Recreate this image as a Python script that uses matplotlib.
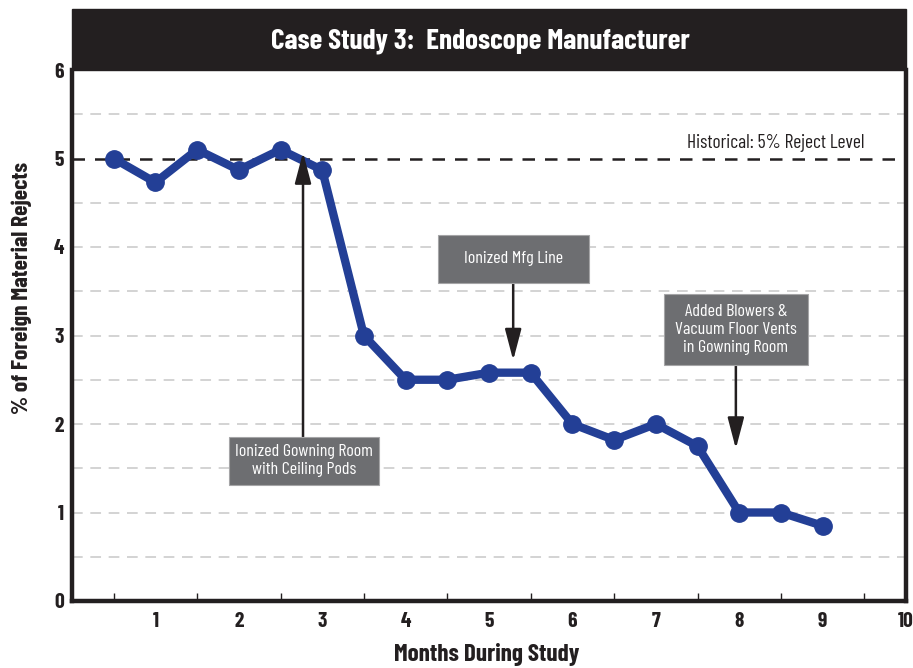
import matplotlib
matplotlib.use("Agg")
import matplotlib.pyplot as plt
from matplotlib.patches import Rectangle
from matplotlib import font_manager as fm

months = [0.5, 1, 1.5, 2, 2.5, 3, 3.5, 4, 4.5, 5, 5.5, 6, 6.5, 7, 7.5, 8, 8.5, 9]
rejects = [5.0, 4.73, 5.1, 4.87, 5.1, 4.87, 3.0, 2.5, 2.5, 2.58, 2.58, 2.0, 1.82, 2.0, 1.75, 1.0, 1.0, 0.85]
historical_level = 5.0
x_ticks = list(range(1, 11))
y_ticks = list(range(0, 7))

names = {f.name for f in fm.fontManager.ttflist}
FONT = "Barlow Condensed" if "Barlow Condensed" in names else "DejaVu Sans"
plt.rcParams['font.family'] = [FONT, 'DejaVu Sans']

DARK = "#231f20"
BLUE = "#233f96"
BOX = "#6d6e71"

fig = plt.figure(figsize=(9.13, 6.68), dpi=100)
ax = fig.add_axes([72/913, 67/668, 834/913, 531/668])

# title bar
fig.patches.append(Rectangle((72/913, (668-70)/668), 834/913, 61/668,
                             transform=fig.transFigure, facecolor=DARK, edgecolor=DARK, zorder=0))
fig.text(480/913, (668-41)/668, "Case Study 3:  Endoscope Manufacturer",
         color="white", fontsize=21, fontweight="bold", ha="center", va="center")

ax.set_xlim(0, 10)
ax.set_ylim(0, 6)

# gridlines
for yv in [0.5, 1, 1.5, 2, 2.5, 3, 3.5, 4, 4.5, 5.5]:
    ax.axhline(yv, color="#c8c8c8", lw=1.1, ls=(0, (7, 5)), zorder=1)
ax.axhline(historical_level, color=DARK, lw=1.8, ls=(0, (5, 4)), zorder=2)
ax.text(9.5, historical_level + 0.17, "Historical: 5% Reject Level", ha="right", va="center",
        fontsize=14, color=DARK)

ax.plot(months, rejects, color=BLUE, lw=6, marker="o", ms=12.5, zorder=5, solid_capstyle="round")

# annotations (box: x0, x1, y0, y1 ; arrow x, arrow tip y)
notes = [
    ("Ionized Gowning Room\nwith Ceiling Pods", (1.883, 3.681, 1.311, 1.853), 2.77, 5.07),
    ("Ionized Mfg Line", (4.388, 6.199, 3.593, 4.136), 5.29, 2.72),
    ("Added Blowers &\nVacuum Floor Vents\nin Gowning Room", (7.098, 8.825, 2.667, 3.469), 7.96, 1.72),
]
arrow = dict(arrowstyle="-|>,head_length=1.9,head_width=0.5", color=DARK, lw=1.8, shrinkA=0, shrinkB=0)
for label, (x0, x1, y0, y1), axx, tip in notes:
    ax.add_patch(Rectangle((x0, y0), x1 - x0, y1 - y0, facecolor=BOX, edgecolor="#a5a5a7",
                           lw=0.8, zorder=7))
    start = y1 if tip > y1 else y0
    ax.annotate("", xy=(axx, tip), xytext=(axx, start), arrowprops=arrow, zorder=6)
    ax.text((x0 + x1) / 2, (y0 + y1) / 2, label, ha="center", va="center",
            color="white", fontsize=13, zorder=8, linespacing=1.25)

# spines
for s in ["left", "bottom", "right"]:
    ax.spines[s].set_linewidth(3.2)
    ax.spines[s].set_color(DARK)
ax.spines["top"].set_visible(False)

ax.set_xticks(x_ticks)
ax.set_xticks([i * 0.5 for i in range(1, 20)], minor=True)
ax.set_yticks(y_ticks)
ax.tick_params(axis="x", which="major", length=0, pad=8, labelsize=15.5)
ax.tick_params(axis="x", which="minor", direction="in", length=6, width=1, color=DARK)
ax.tick_params(axis="y", length=0, pad=6, labelsize=15.5)
for lab in ax.get_xticklabels() + ax.get_yticklabels():
    lab.set_fontweight("bold")
    lab.set_color(DARK)

fig.text(487/913, (668-655)/668, "Months During Study", fontsize=18, fontweight="bold",
         color=DARK, ha="center", va="center")
fig.text(22/913, (668-288)/668, "% of Foreign Material Rejects", fontsize=17, fontweight="bold",
         color=DARK, ha="center", va="center", rotation=90)

fig.savefig("out.png", dpi=100)
